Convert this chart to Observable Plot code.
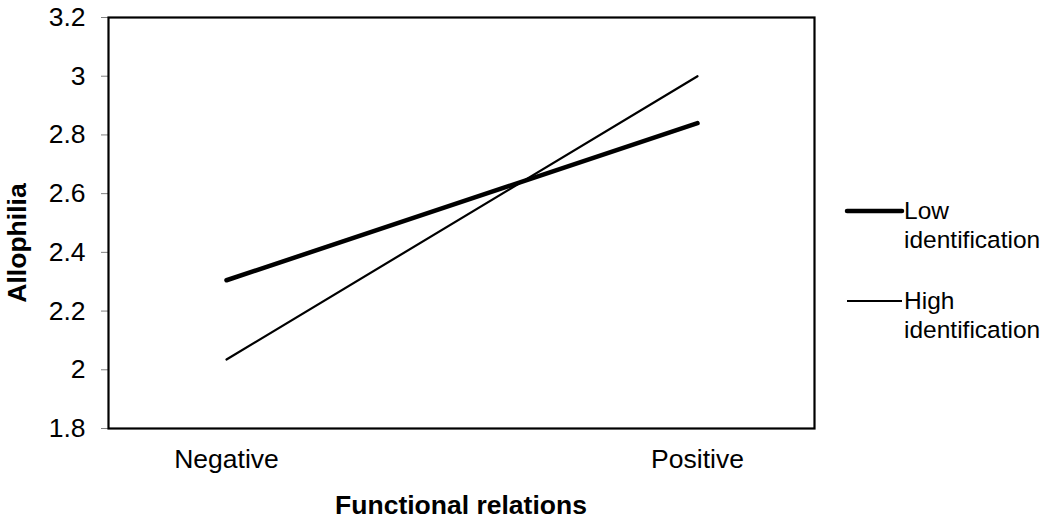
<!DOCTYPE html>
<html>
<head>
<meta charset="utf-8">
<script src="https://cdn.jsdelivr.net/npm/d3@7"></script>
<script src="https://cdn.jsdelivr.net/npm/@observablehq/plot@0.6"></script>
<style>
  html, body { margin: 0; padding: 0; background: #fff; }
  #chart svg { display: block; }
</style>
</head>
<body>
<div id="chart"></div>
<script>
const categories = ["Negative", "Positive"];
const seriesNames = ["Low identification", "High identification"];
const lowIdentification = [2.305, 2.84];
const highIdentification = [2.035, 3.0];
const yTicks = [1.8, 2.0, 2.2, 2.4, 2.6, 2.8, 3.0, 3.2];
const xTitle = "Functional relations";
const yTitle = "Allophilia";

const lowData = categories.map((c, i) => ({category: c, value: lowIdentification[i], series: seriesNames[0]}));
const highData = categories.map((c, i) => ({category: c, value: highIdentification[i], series: seriesNames[1]}));

const W = 1040, H = 521;
const mL = 108, mR = 226, mT = 17, mB = 93;

const chart = Plot.plot({
  width: W,
  height: H,
  marginLeft: mL,
  marginRight: mR,
  marginTop: mT,
  marginBottom: mB,
  style: {fontFamily: "'Liberation Sans', Arial, sans-serif", fontSize: "26px", background: "#fff", color: "#000"},
  x: {type: "point", domain: categories, padding: 0.248},
  y: {domain: [1.8, 3.2]},
  marks: [
    Plot.axisY({ticks: yTicks, tickSize: 7, tickPadding: 16, stroke: "#808080", fill: "#000",
      tickFormat: d => String(+d.toFixed(1)), label: null, fontSize: 26.5}),
    Plot.axisX({tickSize: 0, tickPadding: 21, label: null, fill: "#000", fontSize: 26.5}),
    Plot.line(highData, {x: "category", y: "value", stroke: "#000", strokeWidth: 2.2}),
    Plot.line(lowData, {x: "category", y: "value", stroke: "#000", strokeWidth: 4.5, strokeLinecap: "round"}),
    Plot.frame({stroke: "#000", strokeWidth: 2.2})
  ]
});

document.getElementById("chart").appendChild(chart);

const svg = d3.select(chart);
svg.append("text")
  .attr("transform", `translate(26, 243) rotate(-90)`)
  .attr("text-anchor", "middle")
  .attr("font-weight", "bold")
  .attr("font-size", 26.5)
  .attr("fill", "#000")
  .text(yTitle);

svg.append("text")
  .attr("x", mL + (W - mL - mR) / 2)
  .attr("y", 514)
  .attr("text-anchor", "middle")
  .attr("font-weight", "bold")
  .attr("font-size", 26.5)
  .attr("fill", "#000")
  .text(xTitle);

// legend
const legend = svg.append("g").attr("text-anchor", "start");
const legendItems = [
  {name: seriesNames[0], width: 4.5, y: 211},
  {name: seriesNames[1], width: 2.2, y: 301}
];
legendItems.forEach(item => {
  legend.append("line")
    .attr("x1", 847).attr("x2", 902)
    .attr("y1", item.y).attr("y2", item.y)
    .attr("stroke", "#000")
    .attr("stroke-width", item.width)
    .attr("stroke-linecap", item.width > 3 ? "round" : "butt");
  const words = item.name.split(" ");
  const t = legend.append("text")
    .attr("x", 904)
    .attr("y", item.y + 8)
    .attr("text-anchor", "start")
    .attr("font-size", 24.5)
    .attr("fill", "#000");
  t.append("tspan").attr("x", 904).attr("dy", 0).text(words[0]);
  t.append("tspan").attr("x", 904).attr("dy", 29).text(words[1]);
});
</script>
</body>
</html>
